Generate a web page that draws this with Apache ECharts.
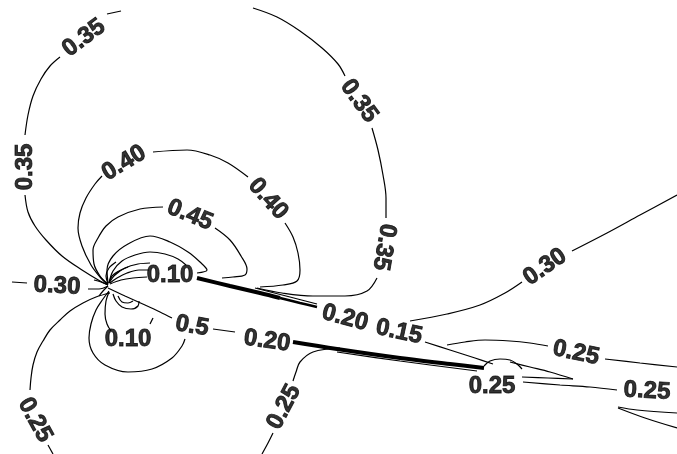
<!DOCTYPE html>
<html>
<head>
<meta charset="utf-8">
<script src="https://cdn.jsdelivr.net/npm/echarts@6/dist/echarts.min.js"></script>
<style>
  html, body { margin: 0; padding: 0; background: #fff; }
  #chart { width: 677px; height: 454px; }
</style>
</head>
<body>
<div id="chart"></div>
<script>
// contour paths (plot units = picture px, y downward)
const c35Left1 = [[107, 14], [121, 11]]
const c35Left2 = [[60, 57], [50, 66], [41, 79], [33, 96], [28, 115], [25, 135]]
const c35Left3 = [[25, 195], [28, 212], [35, 226], [46, 240], [62, 256], [82, 270], [100, 281], [108, 285]]

const c35Right1 = [[253, 8], [277, 17], [300, 31], [322, 48], [338, 64], [345, 76]]
const c35Right2 = [[372, 128], [378, 150], [383, 175], [386, 198], [386, 218]]
const c35Right3 = [[377, 278], [367, 291], [345, 296], [313, 296], [282, 293], [257, 288]]

const c40a = [[108, 285], [100, 277], [91, 265], [82, 246], [78, 228], [80, 213], [86, 198], [95, 184], [102, 176]]
const c40b = [[153, 152], [187, 150], [210, 155], [228, 163], [248, 177]]
const c40c = [[285, 223], [293, 237], [298, 253], [300, 270], [297, 281], [283, 285], [260, 287]]

const c45a = [[108, 284], [100, 276], [94, 264], [93, 250], [98, 238], [106, 226], [118, 217], [140, 209], [163, 207]]
const c45b = [[215, 228], [230, 240], [241, 256], [247, 269], [245, 275], [233, 277], [222, 278]]

const c50 = [[108, 283], [107, 270], [113, 256], [128, 244], [150, 236], [170, 242], [188, 252], [200, 262], [207, 270], [197, 273]]
const c55 = [[109, 283], [113, 271], [122, 261], [135, 255], [150, 252], [165, 254], [178, 259], [186, 265]]
const c60 = [[109, 283], [115, 275], [125, 268], [138, 264], [150, 263]]
const c65 = [[110, 283], [117, 278], [127, 273], [139, 270], [149, 270]]
const c70 = [[110, 284], [121, 280], [133, 278], [147, 277]]
const c75 = [[109, 283], [112, 276], [119, 271], [128, 267]]
const c80 = [[108, 284], [106, 276], [109, 268], [116, 262]]
const cLe1 = [[108, 285], [101, 282], [94, 280]]
const cLe2 = [[108, 286], [103, 291], [99, 296]]

const c30Left1 = [[12, 282], [27, 283]]
const c30Left2 = [[88, 289], [99, 289], [108, 286]]

const c15Low1 = [[108, 288], [125, 296], [145, 305], [160, 312], [172, 318]]
const c15Low2 = [[213, 329], [235, 332]]
const c20Low = [[293, 342], [318, 346], [340, 349]]

const c10Low = [[109, 291], [103, 299], [96, 310], [91, 324], [89, 338], [93, 353], [105, 365], [128, 372], [152, 369], [172, 358], [182, 346], [185, 339]]
const cLowIn1 = [[109, 292], [106, 301], [105, 314], [107, 324], [111, 331]]
const cLowIn2 = [[113, 294], [116, 301], [122, 307], [131, 309], [138, 306], [139, 301]]
const cLowIn3 = [[118, 296], [122, 302], [128, 303], [133, 301]]
const cLowIn4 = [[150, 324], [153, 318]]

const c25Left1 = [[110, 293], [96, 297], [83, 303], [70, 311], [60, 320], [50, 330], [43, 341], [37, 352], [33, 365], [31, 378], [30, 390]]
const c25Left2 = [[48, 445], [53, 454]]
const c25Mid1 = [[340, 348], [313, 352], [300, 362], [296, 372], [293, 381]]
const c25Mid2 = [[273, 433], [268, 443], [262, 454]]

const wingUpper = [[197, 278], [230, 286], [260, 293], [280, 298]]
const wingUpperTail = [[280, 298], [300, 303], [317, 307]]
const wingUpperThin = [[255, 288], [290, 297], [317, 304]]
const flap = [[293, 342], [337, 349], [400, 358], [450, 364], [484, 368]]
const flapThin = [[337, 352], [400, 361], [477, 371]]

const c15Up = [[425, 342], [450, 350], [475, 358], [493, 364]]
const c30Right1 = [[410, 321], [447, 314], [480, 305], [505, 293], [522, 282]]
const c30Right2 = [[572, 251], [607, 233], [640, 215], [677, 195]]

const bump = [[484, 366], [490, 361], [500, 359], [510, 360], [517, 364], [522, 369]]
const wedgeUp = [[510, 362], [530, 367], [550, 372], [573, 379]]
const wedgeLow = [[522, 377], [548, 378], [573, 379]]

const c25Up1 = [[447, 345], [465, 342], [485, 340], [510, 341], [530, 343], [548, 346]]
const c25Up2 = [[605, 359], [640, 363], [677, 367]]
const c25Low = [[523, 382], [560, 385], [590, 387], [617, 390]]
const tailUp = [[618, 407], [637, 410], [677, 413]]
const tailLow = [[618, 408], [645, 418], [677, 428]]

const thinPaths = [c35Left1, c35Left2, c35Left3, c35Right1, c35Right2, c35Right3,
  c40a, c40b, c40c, c45a, c45b, c50, c55, c60, c65, c70, c75, c80, cLe1, cLe2,
  c30Left1, c30Left2, c15Low1, c15Low2, c20Low, c10Low, cLowIn1, cLowIn2, cLowIn3, cLowIn4,
  c25Left1, c25Left2, c25Mid1, c25Mid2, wingUpperThin, flapThin, c15Up,
  c30Right1, c30Right2, bump, wedgeUp, wedgeLow, c25Up1, c25Up2, c25Low, tailUp, tailLow]
const thickPaths = [wingUpper, flap]
const midPaths = [wingUpperTail]

// contour labels
const labelText = ['0.35', '0.35', '0.35', '0.35', '0.40', '0.40', '0.45', '0.10', '0.30',
  '0.10', '0.5', '0.20', '0.20', '0.15', '0.30', '0.25', '0.25', '0.25', '0.25', '0.25']
const labelPos = [[84, 38], [25, 167], [359, 101], [384, 247], [124, 163], [268, 199], [190, 215],
  [170, 275], [57, 286], [128, 339], [192, 326], [267, 341], [345, 318], [399, 332], [545, 267],
  [35, 420], [284, 407], [576, 353], [492, 386], [647, 391]]
const labelAngle = [37, 90, -54, -100, 31, -48, -22, 0, -3, 0, -10, -8, -15, -12, 35, -61, 62, -12, 0, -3]

const series = []
function addPath(data, width) {
  series.push({
    type: 'line', data, smooth: 0.35, showSymbol: false, silent: true,
    lineStyle: { color: '#000', width },
  })
}
thinPaths.forEach((p) => addPath(p, 1.2))
midPaths.forEach((p) => addPath(p, 2.5))
thickPaths.forEach((p) => addPath(p, 4))

series.push({
  type: 'scatter',
  symbolSize: 0,
  silent: true,
  data: labelPos.map((p, i) => ({
    value: p,
    name: labelText[i],
    label: { rotate: labelAngle[i] },
  })),
  label: {
    show: true,
    position: 'inside',
    formatter: (p) => p.name,
    fontFamily: 'Liberation Sans, Arial, sans-serif',
    fontWeight: 'bold',
    fontSize: 24,
    color: '#000',
    textBorderColor: '#000',
    textBorderWidth: 0.9,
    align: 'center',
    verticalAlign: 'middle',
  },
})

const chart = echarts.init(document.getElementById('chart'))
chart.setOption({
  animation: false,
  backgroundColor: '#fff',
  grid: { left: 0, right: 0, top: 0, bottom: 0 },
  xAxis: { type: 'value', min: 0, max: 677, show: false },
  yAxis: { type: 'value', min: 0, max: 454, inverse: true, show: false },
  series,
})
</script>
</body>
</html>
